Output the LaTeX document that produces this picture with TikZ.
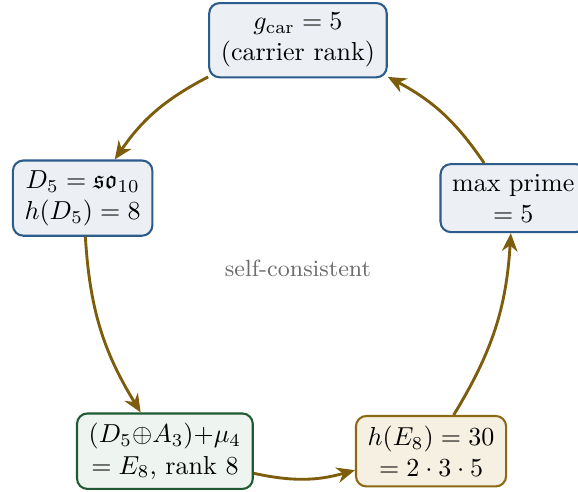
\documentclass[tikz,border=0pt]{standalone}
\usepackage{amsmath,amssymb}
\usepackage{xcolor}
\usepackage{tikz}
\usetikzlibrary{arrows.meta,positioning}

\definecolor{carblue}{HTML}{2C5C8C}
\definecolor{carbluefill}{HTML}{ECF0F4}
\definecolor{e8green}{HTML}{1F5A33}
\definecolor{e8greenfill}{HTML}{EEF4EF}
\definecolor{coxgold}{HTML}{8C6A14}
\definecolor{coxgoldfill}{HTML}{F5F0E2}
\definecolor{cyclearr}{HTML}{7D5C0B}

\begin{document}
\begin{tikzpicture}[
    box/.style={draw=carblue, fill=carbluefill, thick, rounded corners=4pt, align=center, inner xsep=4.5pt, inner ysep=3.8pt},
    greenbox/.style={box, draw=e8green, fill=e8greenfill},
    goldbox/.style={box, draw=coxgold, fill=coxgoldfill},
    arr/.style={-{Stealth[length=7pt,width=6pt]}, draw=cyclearr, line width=1.1pt, bend right=14}
  ]
    \useasboundingbox (-114.6pt,-85.8pt) rectangle (107.7pt,103.1pt);
    \node[box] (gcar) at (90:3.08cm) {$g_{\mathrm{car}} = 5$\\(carrier rank)};
    \node[box] (dfive) at (162:3.06cm) {$D_5 = \mathfrak{so}_{10}$\\$h(D_5) = 8$};
    \node[greenbox] (eeight) at (234:3.06cm) {$(D_5{\oplus}A_3){+}\mu_4$\\$= E_8$, rank 8};
    \node[goldbox] (coxeter) at (306:3.06cm) {$h(E_8) = 30$\\$= 2\cdot 3\cdot 5$};
    \node[box] (maxprime) at (18:3.06cm) {max prime\\$= 5$};
    \node[text=black!58, font=\small] (selfc) at (0,0) {self-consistent};
    \draw[arr] (gcar) to (dfive);
    \draw[arr] (dfive) to (eeight);
    \draw[arr] (eeight) to (coxeter);
    \draw[arr] (coxeter) to (maxprime);
    \draw[arr] (maxprime) to (gcar);
  \end{tikzpicture}
\end{document}
